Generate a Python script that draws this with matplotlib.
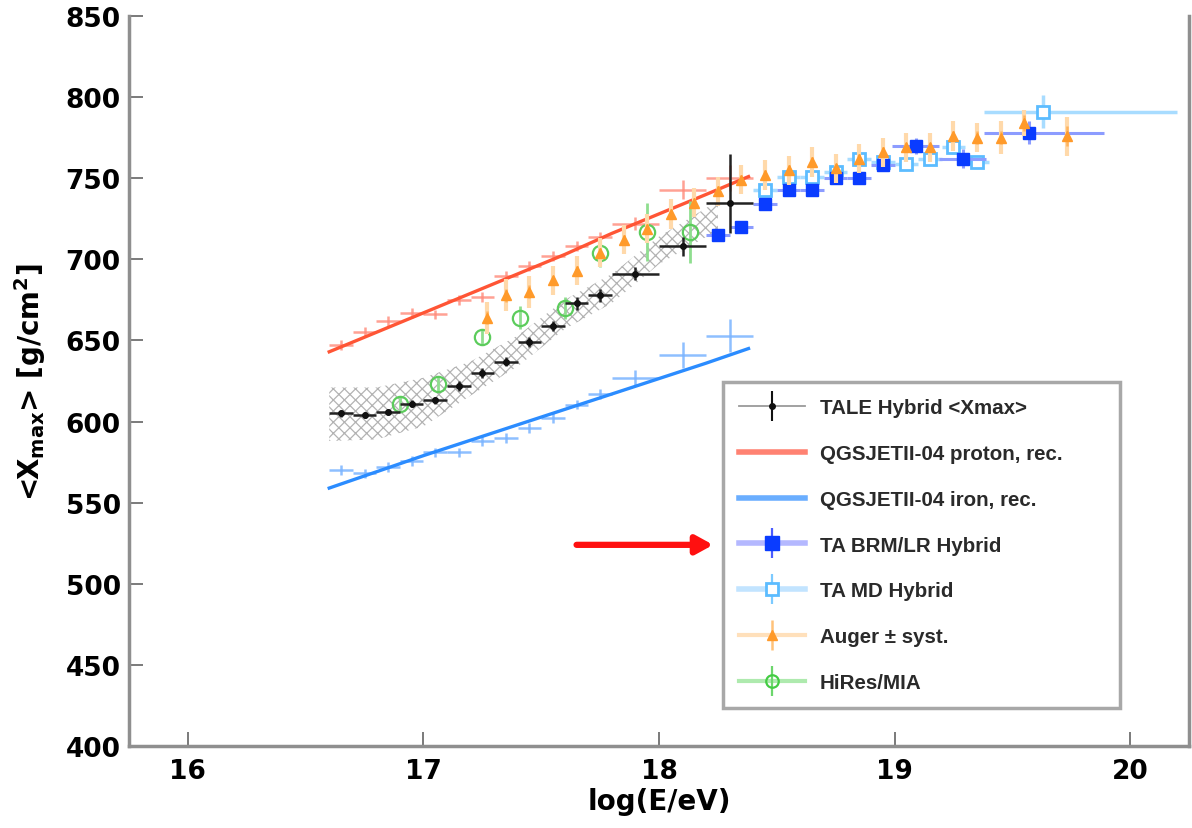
import matplotlib
matplotlib.use("Agg")
import matplotlib.pyplot as plt
from matplotlib.lines import Line2D
import numpy as np

plt.rcParams['font.family'] = ['DejaVu Sans']
plt.rcParams['mathtext.default'] = 'bf'
plt.rcParams['hatch.color'] = '#b3b3b3'
plt.rcParams['hatch.linewidth'] = 0.9

# ---------------- data ----------------
# TALE hybrid <Xmax>
tale_x = [16.65, 16.75, 16.85, 16.95, 17.05, 17.15, 17.25, 17.35, 17.45, 17.55, 17.65, 17.75, 17.90, 18.10, 18.30]
tale_y = [605, 604, 606, 611, 613, 622, 630, 637, 649, 659, 673, 678, 691, 708, 735]
tale_xerr = [0.05]*12 + [0.1, 0.1, 0.1]
tale_yerr_lo = [2, 2, 2, 2, 2, 3, 3, 3, 3, 3, 4, 4, 4, 6, 19]
tale_yerr_hi = [2, 2, 2, 2, 2, 3, 3, 3, 3, 3, 4, 4, 4, 6, 30]
# systematic band
band_x = [16.6, 16.8, 17.0, 17.2, 17.4, 17.6, 17.8, 18.0, 18.25]
band_hi = [621, 621, 627, 637, 653, 675, 691, 714, 736]
band_lo = [588, 589, 597, 616, 634, 657, 673, 697, 718]

# QGSJETII-04 reconstructed (simulation points)
sim_x = tale_x
sim_xerr = tale_xerr
prot_y = [647, 655, 662, 667, 666, 675, 677, 690, 696, 702, 708, 714, 722, 743, 750]
prot_yerr = [3]*12 + [4, 6, 8]
iron_y = [570, 568, 572, 575.5, 581, 581, 588, 590, 596, 602, 610.5, 617, 627, 641, 653]
iron_yerr = [3]*12 + [5, 8, 10]
# smooth curves
curve_x = [16.6, 16.8, 17.0, 17.2, 17.4, 17.6, 17.8, 18.0, 18.2, 18.38]
prot_curve = [643, 655, 667, 679, 691, 703, 716, 728, 740, 751]
iron_curve = [559, 569, 579, 588.5, 598, 607.5, 617, 626.5, 636, 645]

# TA BR/LR hybrid
brm_x = [18.25, 18.35, 18.45, 18.55, 18.65, 18.75, 18.85, 18.95, 19.09, 19.29, 19.57]
brm_y = [715, 720, 734, 743, 743, 750, 750, 758, 770, 762, 778]
brm_xlo = [0.05]*8 + [0.1, 0.1, 0.19]
brm_xhi = [0.05]*8 + [0.1, 0.1, 0.32]
brm_yerr = [3, 3, 3, 3, 3, 3, 3, 3, 5, 6, 7]

# TA MD hybrid
md_x = [18.45, 18.55, 18.65, 18.75, 18.85, 18.95, 19.05, 19.15, 19.25, 19.35, 19.63]
md_y = [743, 751, 751, 754, 762, 760, 759, 762, 769, 760, 791]
md_xlo = [0.05]*10 + [0.25]
md_xhi = [0.05]*10 + [0.57]
md_yerr = [4]*10 + [10]

# Auger
aug_x = [17.27, 17.35, 17.45, 17.55, 17.65, 17.75, 17.85, 17.95, 18.05, 18.15, 18.25, 18.35,
         18.45, 18.55, 18.65, 18.75, 18.85, 18.95, 19.05, 19.15, 19.25, 19.35, 19.45, 19.55, 19.73]
aug_y = [664, 678, 680, 687, 693, 704, 712, 719, 728, 735, 742, 749,
         752, 755, 760, 756, 762, 766, 769, 769, 776, 775, 775, 784, 776]
aug_stat = [4, 4, 4, 3, 3, 3, 3, 3, 3, 3, 3, 3, 3, 3, 3, 3, 3, 3, 3, 3, 3, 4, 4, 5, 6]
aug_syst = [10, 10, 10, 9, 9, 9, 9, 9, 9, 9, 9, 9, 9, 9, 9, 9, 9, 9, 9, 9, 9, 9, 10, 8, 12]

# HiRes/MIA
hm_x = [16.90, 17.06, 17.25, 17.41, 17.60, 17.75, 17.95, 18.13]
hm_y = [611, 623, 652, 664, 670, 704, 717, 717]
hm_yerr = [4, 5, 5, 7, 7, 9, 18, 19]

xticks = [16, 17, 18, 19, 20]
yticks = [400, 450, 500, 550, 600, 650, 700, 750, 800, 850]

legend_labels = ['TALE Hybrid <Xmax>', 'QGSJETII-04 proton, rec.', 'QGSJETII-04 iron, rec.',
                 'TA BRM/LR Hybrid', 'TA MD Hybrid', 'Auger \u00b1 syst.', 'HiRes/MIA']

# ---------------- figure ----------------
fig = plt.figure(figsize=(11.92, 8.29), dpi=100)
ax = fig.add_axes([129/1192, 1-747/829, 1060/1192, 730/829])
ax.set_xlim(15.75, 20.25)
ax.set_ylim(400, 850)

# band
ax.fill_between(band_x, band_lo, band_hi, facecolor='none', edgecolor='#b3b3b3',
                hatch='xxx', linewidth=0, zorder=1)

# simulation points
ax.errorbar(sim_x, prot_y, xerr=sim_xerr, yerr=prot_yerr, fmt='none',
            ecolor='#ff8a7a', elinewidth=1.8, alpha=0.8, zorder=2)
ax.errorbar(sim_x, iron_y, xerr=sim_xerr, yerr=iron_yerr, fmt='none',
            ecolor='#7ab4ff', elinewidth=1.8, alpha=0.85, zorder=2)
ax.plot(curve_x, prot_curve, color='#ff5535', lw=2.4, zorder=3)
ax.plot(curve_x, iron_curve, color='#2b8cff', lw=2.4, zorder=3)

# TA MD
ax.errorbar(md_x, md_y, xerr=[md_xlo, md_xhi], yerr=md_yerr, fmt='s', ms=9,
            mfc='white', mec='#5cbcff', mew=2, ecolor='#a8dcff', elinewidth=2.5, zorder=4)
# TA BRM/LR
ax.errorbar(brm_x, brm_y, xerr=[brm_xlo, brm_xhi], yerr=brm_yerr, fmt='s', ms=9,
            color='#0a3cff', ecolor='#8c9cff', elinewidth=2.2, zorder=5)
# HiRes/MIA
ax.errorbar(hm_x, hm_y, yerr=hm_yerr, fmt='o', ms=11, mfc='none', mec='#5ccc5c',
            mew=1.6, ecolor='#8fde8f', elinewidth=2, zorder=5)
# Auger
ax.errorbar(aug_x, aug_y, yerr=aug_syst, fmt='none', ecolor='#ffd9aa', elinewidth=3, zorder=6)
ax.errorbar(aug_x, aug_y, yerr=aug_stat, fmt='^', ms=6.5, color='#ff9a2a',
            ecolor='#ffb35c', elinewidth=1.8, zorder=6)
# TALE
ax.errorbar(tale_x, tale_y, xerr=tale_xerr, yerr=[tale_yerr_lo, tale_yerr_hi], fmt='o', ms=4,
            color='#111111', ecolor='#222222', elinewidth=1.8, zorder=7)

# arrow
ax.annotate('', xy=(18.23, 524), xytext=(17.65, 524),
            arrowprops=dict(arrowstyle='-|>,head_length=1.0,head_width=0.55',
                            color='#ff1010', lw=4.5, shrinkA=0, shrinkB=0), zorder=8)

# axes styling
for s in ['left', 'bottom', 'right']:
    ax.spines[s].set_color('#8f8f8f')
    ax.spines[s].set_linewidth(2.5)
ax.spines['top'].set_visible(False)
ax.set_xticks(xticks)
ax.set_yticks(yticks)
ax.tick_params(direction='in', length=10, width=1.3, color='#707070')
ax.tick_params(axis='y', pad=6)
ax.tick_params(axis='x', pad=9)
for lab in ax.get_xticklabels() + ax.get_yticklabels():
    lab.set_fontsize(19)
    lab.set_fontweight('bold')
ax.set_xlabel('log(E/eV)', fontsize=20, fontweight='bold', labelpad=2)
fig.text(30/1192, 1-382/829, r'<X$_{\mathbf{max}}$> [g/cm$^{\mathbf{2}}$]', rotation=90,
         ha='center', va='center', fontsize=20, fontweight='bold')

# legend
h_tale = (Line2D([], [], color='#9a9a9a', lw=1.3),
          Line2D([], [], color='#111111', marker='|', ms=21, mew=1.5, ls='none'),
          Line2D([], [], color='#111111', marker='o', ms=4, ls='none'))
h_prot = Line2D([], [], color='#ff8272', lw=4)
h_iron = Line2D([], [], color='#6aaeff', lw=4)
h_brm = (Line2D([], [], color='#b4b8ff', lw=4),
         Line2D([], [], color='#4a5cff', marker='|', ms=21, mew=1.6, ls='none'),
         Line2D([], [], color='#0a3cff', marker='s', ms=10, ls='none'))
h_md = (Line2D([], [], color='#c2e4ff', lw=4),
        Line2D([], [], color='#7ccaff', marker='|', ms=21, mew=1.6, ls='none'),
        Line2D([], [], color='#5cbcff', marker='s', ms=9, mfc='white', mew=2, ls='none'))
h_aug = (Line2D([], [], color='#ffe0bb', lw=3),
         Line2D([], [], color='#ffc27a', marker='|', ms=21, mew=1.8, ls='none'),
         Line2D([], [], color='#ff9a2a', marker='^', ms=7, ls='none'))
h_hm = (Line2D([], [], color='#aeeaae', lw=3),
        Line2D([], [], color='#6cd66c', marker='|', ms=21, mew=1.6, ls='none'),
        Line2D([], [], color='#44cc44', marker='o', ms=9, mfc='none', mew=1.6, ls='none'))
leg = ax.legend([h_tale, h_prot, h_iron, h_brm, h_md, h_aug, h_hm], legend_labels,
                loc='upper left', bbox_to_anchor=(0.5604, 0.0603, 0.3745, 0.4383),
                mode='expand', borderaxespad=0,
                prop={'family': 'Liberation Sans', 'size': 14.8, 'weight': 'bold'},
                frameon=True, fancybox=False, edgecolor='#a8a8a8', framealpha=1,
                borderpad=0.8, labelspacing=1.3, handlelength=3.2, handletextpad=0.7)
leg.get_frame().set_linewidth(2.5)
for t in leg.get_texts():
    t.set_color('#2a2a2a')
leg.set_zorder(10)

fig.savefig('out.png', dpi=100)
